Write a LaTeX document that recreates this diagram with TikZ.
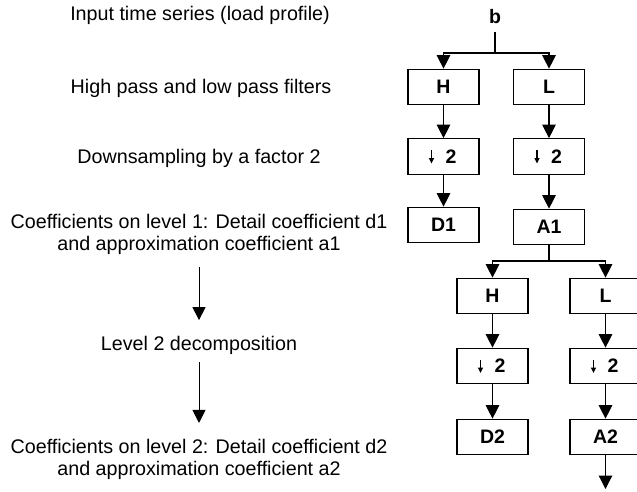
\documentclass[tikz,border=0pt]{standalone}
\usepackage{fontspec}
\setmainfont{Liberation Sans}
\usetikzlibrary{arrows.meta}
\begin{document}
\begin{tikzpicture}[x=1pt,y=-1pt,
  txt/.style={font=\fontsize{19.7}{22}\selectfont, inner sep=0pt, align=center},
  lab/.style={font=\fontsize{19.5}{21}\selectfont\bfseries, inner sep=0pt},
  box/.style={draw, line width=1.2pt, minimum width=71pt, minimum height=35.5pt,
              inner sep=0pt, font=\fontsize{19.5}{21}\selectfont\bfseries},
  lnk/.style={line width=1.2pt},
  arr/.style={line width=1.2pt, -{Triangle[length=13.5pt,width=13.5pt]}},
  sidearr/.style={line width=1pt, -{Triangle[length=13pt,width=13pt]}},
  tick/.style={line width=1.1pt, -{Triangle[length=5.5pt,width=5pt]}}]

\useasboundingbox (0,0) rectangle (637,491);
\clip (0,0) rectangle (637,491);
\fill[white] (0,0) rectangle (637,491);

% ---- step descriptions (left column) ----
\node[txt, anchor=base] (t0) at (200,20)  {Input time series (load profile)};
\node[txt, anchor=base] (t1) at (201,93)  {High pass and low pass filters};
\node[txt, anchor=base] (t2) at (199,163) {Downsampling by a factor 2};
\node[txt] (t3) at (199,234.75) {Coefficients on level 1: Detail coefficient d1\\and approximation coefficient a1};
\node[txt, anchor=base] (t4) at (199,350) {Level 2 decomposition};
\node[txt] (t5) at (199,459.75) {Coefficients on level 2: Detail coefficient d2\\and approximation coefficient a2};

\draw[sidearr, shorten <=12pt, shorten >=15.4pt] (t3.south) -- (t4.north);
\draw[sidearr, shorten <=8pt,  shorten >=16.4pt] (t4.south) -- (t5.north);

% ---- level 1 filter bank ----
\node[lab] (b) at (495,17) {b};
\coordinate (j1) at (495,53);
\node[box] (H1)  at (443.5,87)    {H};
\node[box] (L1)  at (549,87)      {L};
\node[box] (Dh1) at (443.5,156.5) {\hspace*{15pt}2};
\node[box] (Dl1) at (549,156.5)   {\hspace*{15pt}2};
\node[box] (D1)  at (443.5,225)   {D1};
\node[box] (A1)  at (549,227)     {A1};

\draw[lnk, shorten <=8pt] (b) -- (j1);
\draw[arr] (j1) -| (H1);
\draw[arr] (j1) -| (L1);
\draw[arr] (H1) -- (Dh1);
\draw[arr] (Dh1) -- (D1);
\draw[arr] (L1) -- (Dl1);
\draw[arr] (Dl1) -- (A1);

% ---- level 2 filter bank ----
\coordinate (j2) at (549,261);
\node[box] (H2)  at (492.5,296) {H};
\node[box] (L2)  at (605.5,296) {L};
\node[box] (Dh2) at (492.5,366) {\hspace*{15pt}2};
\node[box] (Dl2) at (605.5,366) {\hspace*{15pt}2};
\node[box] (D2)  at (492.5,437) {D2};
\node[box] (A2)  at (605.5,437) {A2};
\coordinate (out) at (605.5,489);

\draw[lnk] (A1) -- (j2);
\draw[arr] (j2) -| (H2);
\draw[arr] (j2) -| (L2);
\draw[arr] (H2) -- (Dh2);
\draw[arr] (Dh2) -- (D2);
\draw[arr] (L2) -- (Dl2);
\draw[arr] (Dl2) -- (A2);
\draw[arr] (A2) -- (out);

% ---- downsampling arrows inside the boxes ----
\foreach \n in {Dh1,Dl1,Dh2,Dl2}
  \draw[tick] ([xshift=-12pt,yshift=6.5pt]\n.center) -- ([xshift=-12pt,yshift=-7pt]\n.center);
\end{tikzpicture}
\end{document}
